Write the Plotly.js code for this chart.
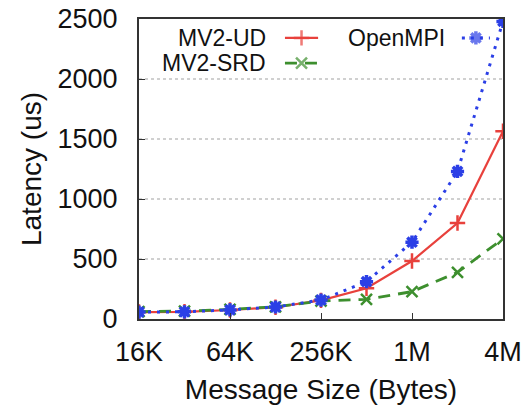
<!DOCTYPE html>
<html>
<head>
<meta charset="utf-8">
<script src="https://cdn.plot.ly/plotly-3.0.1.min.js"></script>
<style>html,body{margin:0;padding:0;background:#fff}#chart{width:524px;height:417px}</style>
</head>
<body>
<div id="chart"></div>
<script>
// Message sizes in KB (log2 spaced)
var sizesKB = [16, 32, 64, 128, 256, 512, 1024, 2048, 4096];
var tickVals = [16, 64, 256, 1024, 4096];
var tickText = ["16K", "64K", "256K", "1M", "4M"];
var mv2UD   = [58, 60, 75, 98, 155, 256, 483, 800, 1565];
var mv2SRD  = [62, 66, 80, 102, 150, 164, 228, 389, 668];
var openMPI = [58, 60, 76, 100, 158, 311, 640, 1230, 2480];
var names = ["MV2-UD", "MV2-SRD", "OpenMPI"];

var red = "#e8413c", green = "#3d8f2e", blue = "#2b3fe6";
var font = "Liberation Sans, Arial, Helvetica, sans-serif";

var traces = [
  {x: sizesKB, y: mv2UD, name: names[0], mode: "lines+markers",
   line: {color: red, width: 2.2},
   marker: {symbol: "cross-thin-open", size: 11, line: {color: red, width: 2.5}}},
  {x: sizesKB, y: mv2SRD, name: names[1], mode: "lines+markers",
   line: {color: green, width: 2.8, dash: "12px,8px"},
   marker: {symbol: "x-thin-open", size: 11, line: {color: green, width: 2.5}}},
  {x: sizesKB, y: openMPI, name: names[2], mode: "lines+markers",
   line: {color: blue, width: 3, dash: "3px,6px"},
   marker: {symbol: "asterisk-open", size: 11, line: {color: blue, width: 3.5}}}
];

// legend samples on an overlay axis (0..1)
var legX = [[0.401, 0.4465, 0.492], [0.401, 0.4465, 0.492], [0.887, 0.9255, 0.964]];
var legY = [0.937, 0.853, 0.937];
for (var i = 0; i < 3; i++) {
  traces.push({x: legX[i], y: [legY[i], legY[i], legY[i]], xaxis: "x2", yaxis: "y2",
    mode: "lines+markers", showlegend: false, hoverinfo: "skip",
    line: traces[i].line,
    marker: {symbol: traces[i].marker.symbol, size: [0, 11, 0], line: traces[i].marker.line}});
}

var layout = {
  width: 524, height: 417,
  margin: {l: 139, r: 21, t: 19, b: 98},
  paper_bgcolor: "#fff", plot_bgcolor: "#fff",
  showlegend: false,
  font: {family: font, size: 27, color: "#111"},
  xaxis: {type: "log", range: [Math.log10(16), Math.log10(4096)],
    tickvals: tickVals, ticktext: tickText, ticks: "inside", ticklen: 6, tickcolor: "#333",
    showgrid: false, zeroline: false, showline: true, mirror: true, linecolor: "#333", linewidth: 2,
    tickfont: {size: 27}, ticklabelstandoff: 8,
    title: {text: "Message Size (Bytes)", font: {size: 28}, standoff: 13}},
  yaxis: {range: [0, 2500], tickvals: [0, 500, 1000, 1500, 2000, 2500],
    ticks: "inside", ticklen: 6, tickcolor: "#333",
    showgrid: true, gridcolor: "#d0d0d0", griddash: "dot", gridwidth: 1.3,
    zeroline: false, showline: true, mirror: true, linecolor: "#333", linewidth: 2,
    tickfont: {size: 27}, ticklabelstandoff: 14,
    title: {text: "Latency (us)", font: {size: 28}, standoff: 8}},
  xaxis2: {overlaying: "x", range: [0, 1], visible: false, fixedrange: true},
  yaxis2: {overlaying: "y", range: [0, 1], visible: false, fixedrange: true},
  annotations: [
    {xref: "paper", yref: "paper", x: 0.354, y: 0.937, xanchor: "right", yanchor: "middle",
     text: names[0], showarrow: false, font: {size: 23}},
    {xref: "paper", yref: "paper", x: 0.354, y: 0.853, xanchor: "right", yanchor: "middle",
     text: names[1], showarrow: false, font: {size: 23}},
    {xref: "paper", yref: "paper", x: 0.846, y: 0.937, xanchor: "right", yanchor: "middle",
     text: names[2], showarrow: false, font: {size: 23}}
  ]
};

Plotly.newPlot("chart", traces, layout, {displayModeBar: false, staticPlot: true});
</script>
</body>
</html>
